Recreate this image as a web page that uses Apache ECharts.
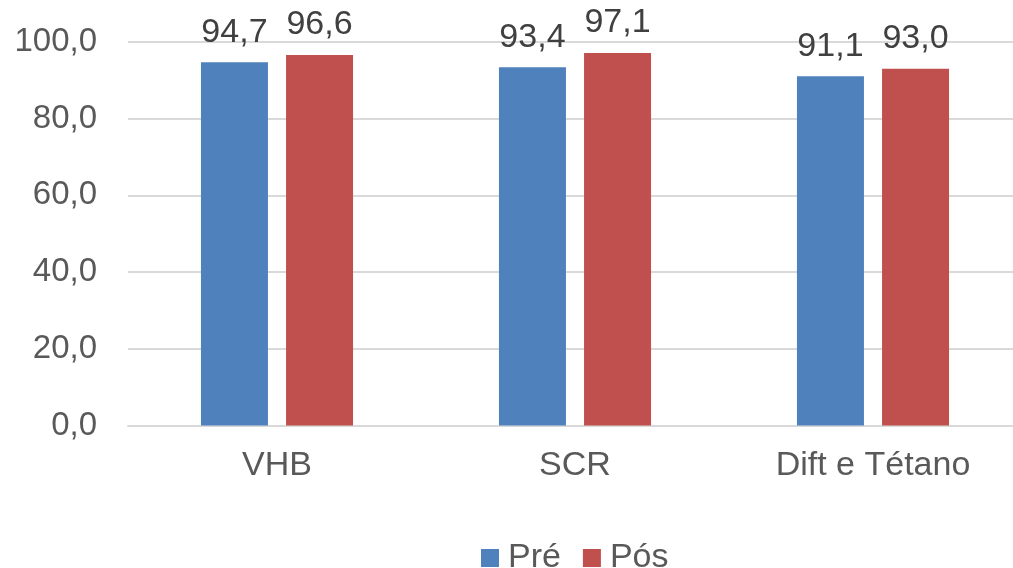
<!DOCTYPE html>
<html>
<head>
<meta charset="utf-8">
<script src="https://cdn.jsdelivr.net/npm/echarts@6/dist/echarts.min.js"></script>
<style>
  html, body { margin: 0; padding: 0; background: #fff; }
  #chart { width: 1013px; height: 568px; }
</style>
</head>
<body>
<div id="chart"></div>
<script>
// Vaccine coverage (%) before and after, by vaccine
const categories = ['VHB', 'SCR', 'Dift e Tétano'];
const preValues = [94.7, 93.4, 91.1];
const posValues = [96.6, 97.1, 93.0];
const seriesNames = ['Pré', 'Pós'];

const FONT = 'Liberation Sans, Arial, sans-serif';
const fmt = v => v.toFixed(1).replace('.', ',');

const chart = echarts.init(document.getElementById('chart'), null, { renderer: 'canvas' });

const labelStyle = {
  show: true,
  position: 'top',
  distance: 13,
  color: '#404040',
  fontFamily: FONT,
  fontSize: 34,
  formatter: p => fmt(p.value)
};

chart.setOption({
  animation: false,
  backgroundColor: '#ffffff',
  grid: { left: 128, right: -9, top: 42, bottom: 142.5, containLabel: false, outerBoundsMode: 'none' },
  legend: {
    data: seriesNames,
    left: 476,
    top: 536,
    icon: 'rect',
    itemWidth: 18,
    itemHeight: 18,
    itemGap: 22,
    textStyle: { color: '#595959', fontFamily: FONT, fontSize: 34, padding: [0, 0, 0, 4] }
  },
  xAxis: {
    type: 'category',
    data: categories,
    axisLine: { lineStyle: { color: '#D9D9D9', width: 2 } },
    axisTick: { show: false },
    axisLabel: { color: '#595959', fontFamily: FONT, fontSize: 34, margin: 23 }
  },
  yAxis: {
    type: 'value',
    min: 0,
    max: 100,
    interval: 20,
    axisLine: { show: false },
    axisTick: { show: false },
    splitLine: { lineStyle: { color: '#D9D9D9', width: 2 } },
    axisLabel: { color: '#595959', fontFamily: FONT, fontSize: 33, margin: 31, formatter: v => fmt(v) }
  },
  series: [
    {
      name: seriesNames[0],
      type: 'bar',
      data: preValues,
      barWidth: 67,
      barGap: '27%',
      itemStyle: { color: '#4F81BD' },
      label: labelStyle
    },
    {
      name: seriesNames[1],
      type: 'bar',
      data: posValues,
      barWidth: 67,
      barGap: '27%',
      itemStyle: { color: '#C0504D' },
      label: labelStyle
    }
  ]
});
</script>
</body>
</html>
